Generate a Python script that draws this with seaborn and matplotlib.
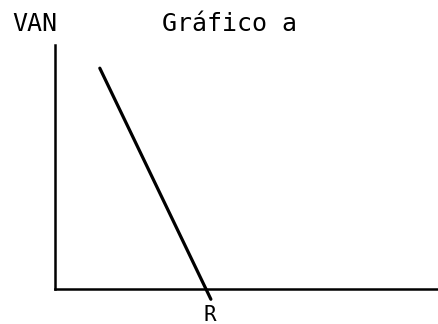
import matplotlib
matplotlib.use("Agg")
import matplotlib.pyplot as plt
import seaborn as sns
import pandas as pd

# Data: VAN as a function of the discount rate (Gráfico a)
tasa = [1.17, 4.07]
van = [9.05, -0.42]
x_label = "R"
y_label = "VAN"
title = "Gráfico a"

df = pd.DataFrame({"tasa": tasa, "van": van})

sns.set_style("white")
plt.rcParams["font.family"] = ["DejaVu Sans Mono", "DejaVu Sans"]

W, H = 438, 324
fig = plt.figure(figsize=(W / 100, H / 100), dpi=100)
# axes: x from px 55 to 438, y from px 289 (0) up to px 45 (10)
ax = fig.add_axes([55 / W, (H - 289) / H, (438 - 55) / W, (289 - 45) / H])
ax.set_xlim(0, 10)
ax.set_ylim(0, 10)

sns.lineplot(data=df, x="tasa", y="van", ax=ax, color="black", linewidth=2.3)
for l in ax.lines:
    l.set_clip_on(False)

for s in ["top", "right"]:
    ax.spines[s].set_visible(False)
for s in ["left", "bottom"]:
    ax.spines[s].set_color("black")
    ax.spines[s].set_linewidth(1.8)
ax.set_xticks([])
ax.set_yticks([])
ax.set_xlabel("")
ax.set_ylabel("")

fig.text(35 / W, 1 - 31 / H, y_label, fontsize=18, color="black", ha="center", va="baseline")
fig.text(229 / W, 1 - 31 / H, title, fontsize=18, color="black", ha="center", va="baseline")
fig.text(210 / W, 1 - 321 / H, x_label, fontsize=15, color="black", ha="center", va="baseline")

fig.savefig("out.png", dpi=100, facecolor="white")
